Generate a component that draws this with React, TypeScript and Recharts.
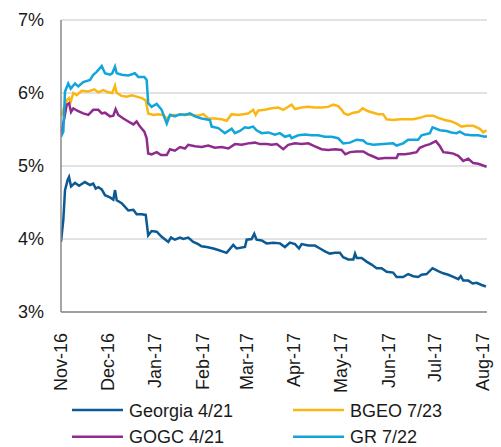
import React from 'react';
import { LineChart, Line, XAxis, YAxis, CartesianGrid, Legend } from 'recharts';

// x = days since 1 Nov 2016
const monthTicks = [0, 30, 61, 92, 120, 151, 181, 212, 242, 273];
const monthLabels = ['Nov-16', 'Dec-16', 'Jan-17', 'Feb-17', 'Mar-17', 'Apr-17', 'May-17', 'Jun-17', 'Jul-17', 'Aug-17'];
const yTicks = [3, 4, 5, 6, 7];

const seriesNames = ['Georgia 4/21', 'BGEO 7/23', 'GOGC 4/21', 'GR 7/22'];
const seriesColors = ['#0b5a94', '#fbb614', '#8f2b8f', '#12a5dc'];

const georgia: [number, number][] = [
  [0, 3.96], [1.5, 4.26], [2.6, 4.67], [4.3, 4.81], [5.2, 4.85], [6.5, 4.72], [9.1, 4.77], [11.7, 4.73], [15.5, 4.78], [18.8, 4.74],
  [20.9, 4.76], [22.5, 4.69], [24.2, 4.71], [26.4, 4.68], [28.5, 4.6], [31.7, 4.57], [33.9, 4.54], [35, 4.67], [36.1, 4.53], [39.3, 4.49],
  [41.5, 4.44], [43.6, 4.39], [46.9, 4.4], [49, 4.34], [52.3, 4.34], [54.9, 4.33], [56.5, 4.05], [58.7, 4.11], [62, 4.1], [65.2, 4.03],
  [69.5, 3.96], [71.3, 4.02], [73.8, 3.99], [77.1, 4.02], [79.2, 4.0], [82.4, 4.02], [85.7, 3.96], [88.9, 3.93], [91, 3.9], [94.4, 3.89],
  [98.7, 3.87], [101.9, 3.85], [107.3, 3.81], [111.6, 3.92], [113.8, 3.87], [119.2, 3.89], [120.3, 3.99], [123.5, 4.0], [125.2, 4.07], [126.7, 3.99],
  [130, 3.98], [133.2, 3.94], [137.6, 3.95], [141.9, 3.94], [145.1, 3.89], [148.3, 3.95], [151.6, 3.93], [154.2, 3.87], [155.9, 3.93], [160.2, 3.91],
  [164.5, 3.91], [167.8, 3.87], [171, 3.83], [174.2, 3.8], [177.5, 3.81], [180.7, 3.81], [182.8, 3.75], [186.1, 3.72], [189.4, 3.72], [190.5, 3.8],
  [191.6, 3.74], [194.8, 3.74], [198, 3.69], [201.2, 3.65], [204.5, 3.6], [207.7, 3.6], [211, 3.55], [215.2, 3.54], [217.4, 3.48], [221.7, 3.48],
  [224.9, 3.52], [228.2, 3.49], [231.4, 3.48], [233.6, 3.51], [236.9, 3.52], [240.7, 3.6], [244.4, 3.56], [247.6, 3.53], [250.9, 3.51], [254.2, 3.48],
  [257.4, 3.45], [259, 3.49], [260.6, 3.43], [263.9, 3.43], [266.7, 3.39], [269.3, 3.4], [272.5, 3.37], [275.3, 3.35],
];

const bgeo: [number, number][] = [
  [0, 5.68], [1.5, 5.77], [3.7, 5.9], [5.2, 5.93], [6.3, 5.88], [8, 6.0], [10.2, 5.97], [13.4, 6.03], [17.7, 6.02], [21.6, 6.05],
  [24.2, 6.01], [27.4, 6.04], [30.6, 6.01], [33.2, 6.0], [35, 6.1], [36.1, 6.0], [39.3, 5.96], [42.6, 5.95], [45.8, 5.97], [49, 5.95],
  [52.3, 5.93], [54.9, 5.9], [56.5, 5.72], [59.8, 5.7], [63, 5.71], [66.3, 5.7], [68.5, 5.65], [71.7, 5.7], [76, 5.7], [80.3, 5.71],
  [84.7, 5.7], [88.9, 5.69], [92.2, 5.71], [95.4, 5.65], [99.7, 5.65], [104.1, 5.64], [107.3, 5.62], [110.6, 5.71], [114.8, 5.7], [118.1, 5.71],
  [121.3, 5.72], [124.5, 5.77], [126.1, 5.7], [127.8, 5.76], [132.1, 5.77], [136.5, 5.79], [140.7, 5.8], [144, 5.77], [149.4, 5.84], [151.6, 5.78],
  [155.9, 5.8], [160.2, 5.81], [164.5, 5.8], [168.8, 5.8], [173.1, 5.81], [176.4, 5.84], [179.6, 5.82], [181.8, 5.77], [183.5, 5.72], [186.1, 5.7],
  [189.4, 5.73], [192.6, 5.74], [195.5, 5.79], [199, 5.75], [202.3, 5.73], [205.5, 5.71], [208.7, 5.71], [210.9, 5.64], [215.2, 5.63], [219.6, 5.64],
  [223.9, 5.64], [228.2, 5.64], [232.5, 5.66], [236.9, 5.69], [241.1, 5.69], [244.4, 5.66], [248.7, 5.63], [253, 5.61], [256.3, 5.58], [259.5, 5.54],
  [262.8, 5.55], [267.1, 5.55], [271.4, 5.51], [273.5, 5.46], [275.7, 5.49],
];

const gogc: [number, number][] = [
  [0, 5.43], [2.1, 5.65], [3.7, 5.84], [5.2, 5.86], [6.5, 5.74], [8, 5.79], [11.2, 5.75], [14.4, 5.72], [17.7, 5.7], [20.9, 5.77],
  [24.2, 5.77], [26.4, 5.72], [28.5, 5.73], [31.7, 5.68], [33.9, 5.69], [35.4, 5.78], [37.1, 5.7], [40.4, 5.65], [43.6, 5.61], [46.9, 5.57],
  [49, 5.61], [51.2, 5.54], [54, 5.47], [55.5, 5.38], [56.5, 5.17], [58.7, 5.16], [62, 5.19], [64.8, 5.15], [68.5, 5.15], [70.6, 5.23],
  [73.8, 5.21], [77.1, 5.26], [80.3, 5.24], [82.4, 5.29], [86.8, 5.27], [91.1, 5.26], [95.4, 5.28], [99.7, 5.25], [104.1, 5.26], [108.4, 5.24],
  [112.7, 5.3], [117.1, 5.29], [121.3, 5.31], [125.7, 5.32], [128.9, 5.3], [133.3, 5.3], [136.5, 5.29], [139.8, 5.3], [144, 5.23], [147.2, 5.29],
  [151.6, 5.31], [155.9, 5.3], [160.2, 5.31], [164.5, 5.27], [168.8, 5.23], [173.1, 5.22], [177.5, 5.23], [181.8, 5.22], [184.2, 5.16], [187.2, 5.19],
  [191.5, 5.2], [195.8, 5.2], [199, 5.16], [202.3, 5.13], [205.5, 5.1], [209.8, 5.11], [214.1, 5.11], [217.4, 5.11], [218.5, 5.16], [222.8, 5.16],
  [226.1, 5.17], [230.4, 5.19], [232.5, 5.25], [235.8, 5.28], [239, 5.3], [242.9, 5.34], [245.5, 5.27], [247.7, 5.19], [250.9, 5.18], [254.2, 5.17],
  [257.4, 5.14], [260.6, 5.07], [263.9, 5.1], [267.1, 5.04], [270.4, 5.03], [275.7, 4.99],
];

const gr: [number, number][] = [
  [0, 5.4], [1.5, 5.47], [2.6, 6.02], [4.7, 6.13], [6.3, 6.06], [9.1, 6.13], [11.2, 6.09], [14.4, 6.15], [18.8, 6.18], [20.9, 6.25],
  [23.1, 6.29], [26.4, 6.37], [28.5, 6.27], [31.7, 6.25], [33.2, 6.27], [35, 6.36], [36.1, 6.27], [39.3, 6.25], [43.6, 6.24], [47.9, 6.27],
  [50.1, 6.22], [54, 6.22], [55.5, 6.18], [56.5, 5.86], [58.7, 5.81], [62, 5.85], [65.2, 5.77], [68.5, 5.58], [70.6, 5.7], [73.8, 5.68],
  [77.1, 5.71], [80.3, 5.7], [83.5, 5.72], [86.8, 5.68], [91.1, 5.65], [96.5, 5.63], [97.6, 5.54], [101.9, 5.52], [106.2, 5.45], [110.6, 5.51],
  [112.7, 5.45], [115.9, 5.48], [119.2, 5.53], [121.3, 5.52], [124.5, 5.54], [126.7, 5.49], [130, 5.45], [134.3, 5.46], [138.6, 5.43], [141.8, 5.45],
  [145.1, 5.4], [148.3, 5.42], [149.4, 5.38], [153.7, 5.42], [158, 5.43], [162.4, 5.42], [166.6, 5.42], [171, 5.4], [175.3, 5.4], [179.6, 5.38],
  [182.8, 5.31], [187.2, 5.32], [191.5, 5.36], [195.8, 5.35], [198, 5.31], [202.3, 5.29], [208.7, 5.3], [215.2, 5.31], [217.4, 5.28], [221.7, 5.31],
  [224.9, 5.36], [231.4, 5.36], [233.6, 5.42], [239, 5.45], [240.7, 5.53], [245.5, 5.49], [249.8, 5.48], [253, 5.46], [256.3, 5.45], [258.4, 5.47],
  [261.7, 5.43], [266, 5.42], [270.3, 5.42], [274.6, 5.4], [276, 5.41],
];

const toRows = (pts: [number, number][]) => pts.map(([d, v]) => ({ d, v }));
const seriesData = [toRows(georgia), toRows(bgeo), toRows(gogc), toRows(gr)];

const FONT = '"Liberation Sans", Arial, sans-serif';

const XTick = (props: any) => {
  const { x, y, payload } = props;
  const idx = monthTicks.indexOf(payload.value);
  const label = idx >= 0 ? monthLabels[idx] : '';
  return (
    <text
      x={x}
      y={y + 13}
      transform={`rotate(-90, ${x}, ${y + 13})`}
      textAnchor="end"
      dy="0.35em"
      fontSize={18}
      fontFamily={FONT}
      fill="#1a1a1a"
    >
      {label}
    </text>
  );
};

const LegendContent = () => {
  const pos = [
    { x: 72, y: 14 },
    { x: 293, y: 14 },
    { x: 72, y: 40.7 },
    { x: 293, y: 40.7 },
  ];
  return (
    <svg width={501} height={51}>
      {seriesNames.map((name, i) => (
        <g key={name}>
          <line x1={pos[i].x} x2={pos[i].x + 51} y1={pos[i].y} y2={pos[i].y} stroke={seriesColors[i]} strokeWidth={2.5} />
          <text x={pos[i].x + 57} y={pos[i].y + 6.5} fontSize={18} fontFamily={FONT} fill="#1a1a1a">
            {name}
          </text>
        </g>
      ))}
    </svg>
  );
};

export default function App() {
  return (
    <div style={{ position: 'absolute', left: 0, top: 0, width: 501, height: 447, background: '#fff' }}>
      <LineChart width={501} height={447} margin={{ top: 20, right: 14, left: 0, bottom: 0 }}>
        <CartesianGrid horizontal vertical={false} stroke="#d9d9d9" strokeWidth={1.5} />
        <XAxis
          type="number"
          dataKey="d"
          domain={[0, 276]}
          ticks={monthTicks}
          interval={0}
          allowDataOverflow
          height={135}
          tickLine={false}
          tick={<XTick />}
          axisLine={{ stroke: '#898989', strokeWidth: 1.5 }}
        />
        <YAxis
          type="number"
          domain={[3, 7]}
          ticks={yTicks}
          interval={0}
          width={61}
          tickLine={false}
          tickSize={0}
          tickMargin={17}
          tickFormatter={(v: number) => `${v}%`}
          tick={{ fontSize: 18, fontFamily: FONT, fill: '#1a1a1a' }}
          axisLine={{ stroke: '#898989', strokeWidth: 1.5 }}
        />
        {seriesNames.map((name, i) => (
          <Line
            key={name}
            name={name}
            data={seriesData[i]}
            dataKey="v"
            type="linear"
            stroke={seriesColors[i]}
            strokeWidth={2.5}
            dot={false}
            isAnimationActive={false}
          />
        ))}
        <Legend
          layout="horizontal"
          verticalAlign="middle"
          align="center"
          content={<LegendContent />}
          wrapperStyle={{ position: 'absolute', left: 0, top: 396, width: 501, height: 51 }}
        />
      </LineChart>
    </div>
  );
}
